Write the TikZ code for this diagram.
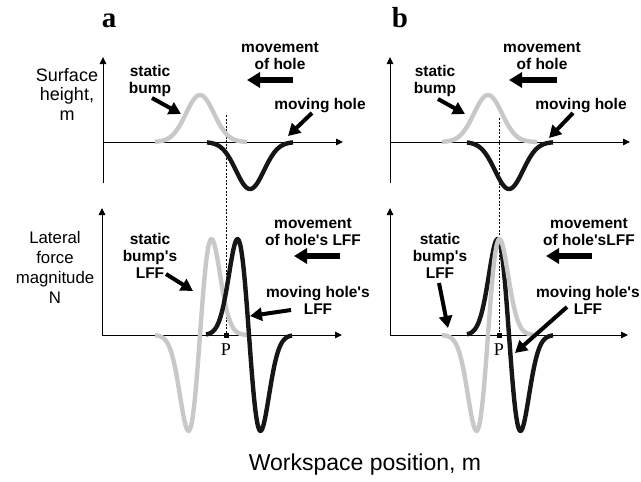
\documentclass[tikz,border=0pt]{standalone}
\usepackage{fontspec}
\setmainfont{Liberation Serif}
\newfontfamily\lblsans{Liberation Sans}
\usetikzlibrary{arrows.meta}
\definecolor{curvegray}{RGB}{200,200,200}
\definecolor{curveblack}{RGB}{22,22,22}
\begin{document}
\begin{tikzpicture}[x=1pt,y=-1pt,
  axis/.style={line width=0.9pt,-{Triangle[length=7pt,width=6.5pt]}},
  larrow/.style={line width=4pt,-{Triangle[length=12pt,width=13pt]}},
  marrow/.style={line width=5.5pt,-{Triangle[length=13pt,width=15pt]}},
  gcurve/.style={line width=4.4pt,curvegray},
  bcurve/.style={line width=4.4pt,curveblack},
  guide/.style={line width=0.8pt,dash pattern=on 2pt off 1.6pt},
  axlabel/.style={font=\lblsans\fontsize{16.5}{19.5}\selectfont,align=center,inner sep=0pt},
  blabel/.style={font=\lblsans\bfseries\fontsize{15.5}{17}\selectfont,align=center,inner sep=0pt},
  panel/.style={font=\bfseries\fontsize{29}{30}\selectfont,inner sep=0pt,anchor=base},
  pmark/.style={fill=black,minimum size=5pt,inner sep=0pt},
  plabel/.style={font=\fontsize{18}{20}\selectfont,inner sep=0pt}]
\path[use as bounding box] (0,0) rectangle (641,482);

% ---------- axes ----------
\coordinate (tlB) at (103,183); \coordinate (tlT) at (103,57);
\coordinate (tlO) at (103,142); \coordinate (tlR) at (343,142);
\coordinate (trB) at (390,183); \coordinate (trT) at (390,57);
\coordinate (trO) at (390,142); \coordinate (trR) at (630,142);
\coordinate (blO) at (102,335); \coordinate (blT) at (102,208); \coordinate (blR) at (342,335);
\coordinate (brO) at (390,335); \coordinate (brT) at (390,208); \coordinate (brR) at (628,335);
\draw[axis] (tlB) -- (tlT);
\draw[axis] (tlO) -- (tlR);
\draw[axis] (trB) -- (trT);
\draw[axis] (trO) -- (trR);
\draw[axis] (blO) -- (blT);
\draw[axis] (blO) -- (blR);
\draw[axis] (brO) -- (brT);
\draw[axis] (brO) -- (brR);

% ---------- guide lines ----------
\coordinate (ga) at (226,115); \coordinate (gb) at (499,118);
\node[pmark] (Pa) at (226,335) {};
\node[pmark] (Pb) at (499,335) {};
\draw[guide] (ga) -- (Pa.center);
\draw[guide] (gb) -- (Pb.center);

% ---------- top curves ----------
\draw[gcurve] plot[domain=-45:47,samples=121,smooth] ({200+\x},{142-47*exp(-\x*\x/392)});
\draw[bcurve] plot[domain=-43:43,samples=121,smooth] ({250+\x},{142+47*exp(-\x*\x/392)});
\draw[gcurve] plot[domain=-46:49,samples=121,smooth] ({488+\x},{142-47*exp(-\x*\x/392)});
\draw[bcurve] plot[domain=-42:44,samples=121,smooth] ({509+\x},{142+47*exp(-\x*\x/392)});

% ---------- bottom curves ----------
\draw[gcurve] plot[domain=-45:47,samples=161,smooth] ({200+\x},{335-158*(\x/11.5)*exp(-\x*\x/264.5)});
\draw[bcurve] plot[domain=-43:43,samples=161,smooth] ({249+\x},{335+158*(\x/11.5)*exp(-\x*\x/264.5)});
\draw[bcurve] plot[domain=-42:44,samples=161,smooth] ({509+\x},{335+158*(\x/11.5)*exp(-\x*\x/264.5)});
\draw[gcurve] plot[domain=-46:49,samples=161,smooth] ({488+\x},{335-158*(\x/11.5)*exp(-\x*\x/264.5)});

% redraw P markers on top
\node[pmark] at (Pa) {};
\node[pmark] at (Pb) {};
\node[plabel] (Pla) at (226,350) {P};
\node[plabel] (Plb) at (499,350) {P};

% ---------- panel letters ----------
\node[panel] (la) at (109,27) {a};
\node[panel] (lb) at (400,27) {b};

% ---------- axis labels ----------
\node[axlabel,font=\lblsans\fontsize{18}{19.5}\selectfont] (sh) at (67,94) {Surface\\height,\\m};
\node[axlabel,font=\lblsans\fontsize{16.8}{20}\selectfont] (lf) at (55,267) {Lateral\\force\\magnitude\\N};
\node[font=\lblsans\fontsize{23}{25}\selectfont,inner sep=0pt] (wp) at (365,465) {Workspace position, m};

% ---------- panel a labels ----------
\node[blabel] (sba) at (150,81) {static\\bump};
\node[blabel] (mha) at (280,56) {movement\\of hole};
\node[blabel] (mva) at (320,106) {moving hole};
\coordinate (a1s) at (152,98); \coordinate (a1e) at (181,114);
\draw[larrow] (a1s) -- (a1e);
\coordinate (a2s) at (293,80); \coordinate (a2e) at (247,80);
\draw[marrow] (a2s) -- (a2e);
\coordinate (a3s) at (312,113); \coordinate (a3e) at (288,136);
\draw[larrow] (a3s) -- (a3e);

\node[blabel] (sla) at (150,256) {static\\bump's\\LFF};
\node[blabel] (mla) at (313,232) {movement\\of hole's LFF};
\node[blabel] (hla) at (318,300) {moving hole's\\LFF};
\coordinate (a4s) at (166,274); \coordinate (a4e) at (193,291);
\draw[larrow] (a4s) -- (a4e);
\coordinate (a5s) at (340,256); \coordinate (a5e) at (294,256);
\draw[marrow] (a5s) -- (a5e);
\coordinate (a6s) at (291,310); \coordinate (a6e) at (250,316);
\draw[larrow] (a6s) -- (a6e);

% ---------- panel b labels ----------
\node[blabel] (sbb) at (435,81) {static\\bump};
\node[blabel] (mhb) at (542,56) {movement\\of hole};
\node[blabel] (mvb) at (581,106) {moving hole};
\coordinate (b1s) at (438,99); \coordinate (b1e) at (465,114);
\draw[larrow] (b1s) -- (b1e);
\coordinate (b2s) at (557,80); \coordinate (b2e) at (509,80);
\draw[marrow] (b2s) -- (b2e);
\coordinate (b3s) at (573,113); \coordinate (b3e) at (549,138);
\draw[larrow] (b3s) -- (b3e);

\node[blabel] (slb) at (440,256) {static\\bump's\\LFF};
\node[blabel] (mlb) at (589,232) {movement\\of hole'sLFF};
\node[blabel] (hlb) at (588,300) {moving hole's\\LFF};
\coordinate (b4s) at (439,283); \coordinate (b4e) at (448,328);
\draw[larrow] (b4s) -- (b4e);
\coordinate (b5s) at (592,256); \coordinate (b5e) at (546,256);
\draw[marrow] (b5s) -- (b5e);
\coordinate (b6s) at (567,307); \coordinate (b6e) at (515,353);
\draw[larrow] (b6s) -- (b6e);
\end{tikzpicture}
\end{document}
